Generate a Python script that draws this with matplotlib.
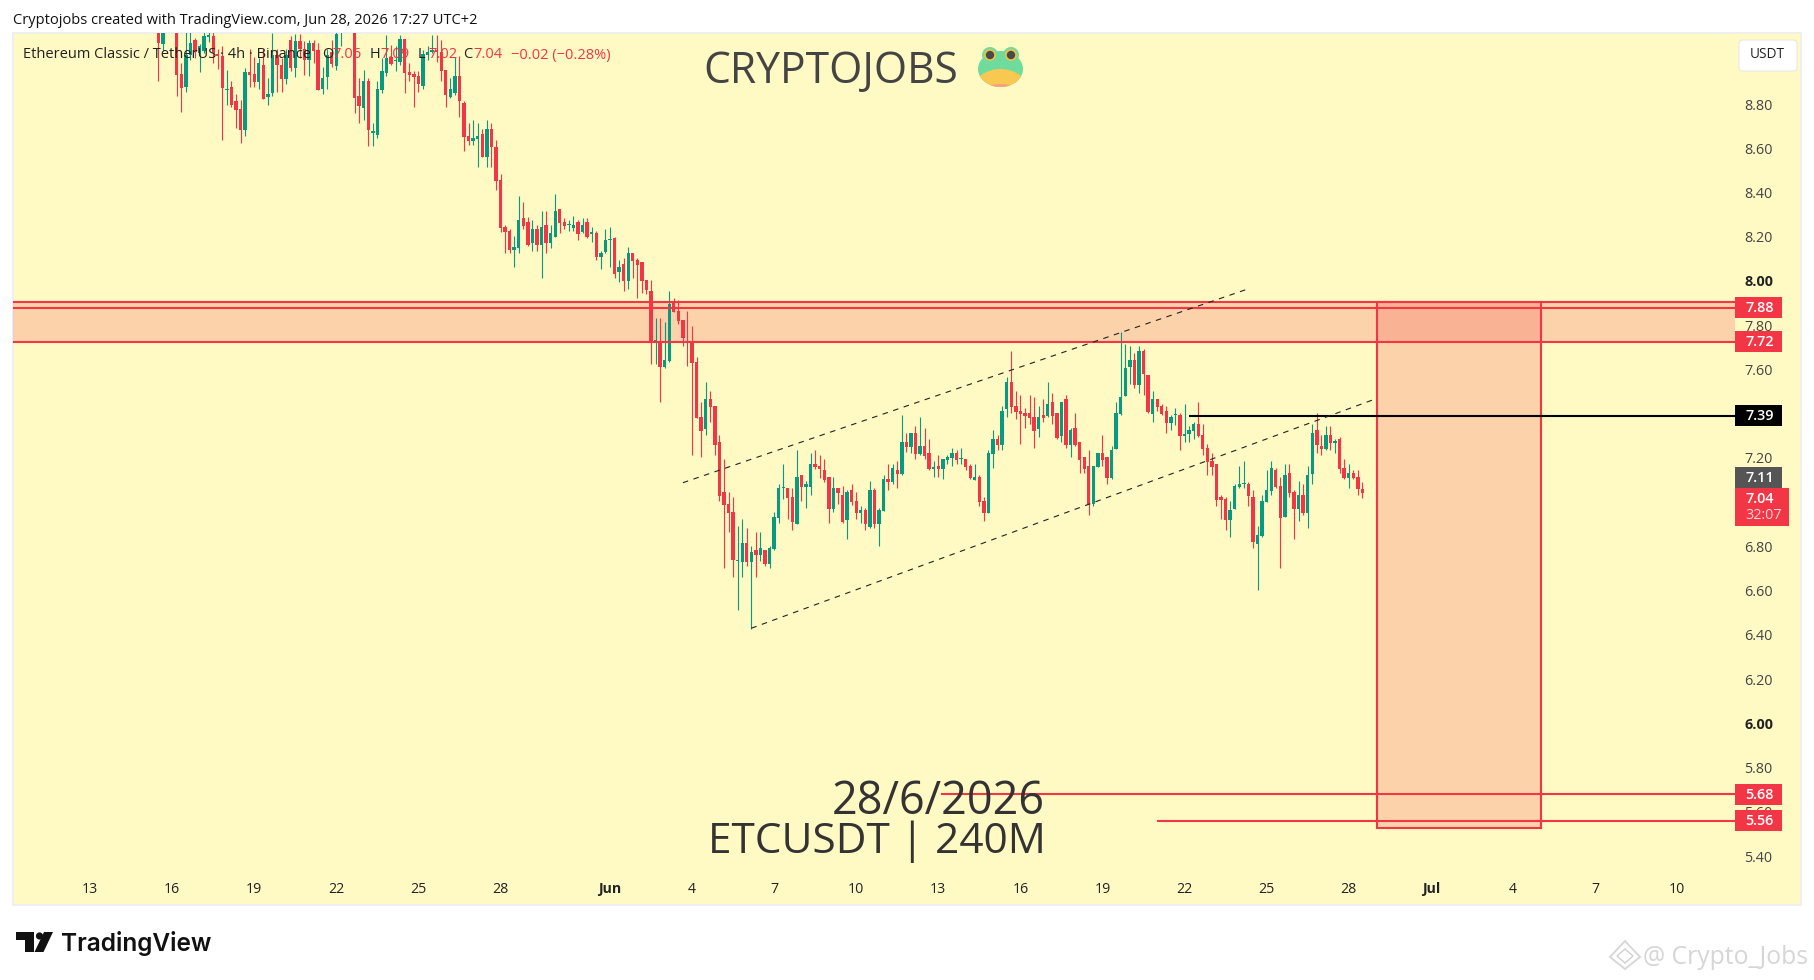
import numpy as np
import matplotlib
matplotlib.use("Agg")
import matplotlib.pyplot as plt
from matplotlib.patches import Rectangle, Ellipse, Polygon, Circle, FancyBboxPatch
from matplotlib.transforms import IdentityTransform

W, H = 1814, 980

# 4h candles, first one is bar -99, bar 0 sits on the Jun tick
opens = [
    9.20,9.07,9.20,9.22,9.20,8.936,8.875,9.02,9.09,9.03,
    9.04,9.105,9.107,9.026,9.017,8.864,8.876,8.812,8.777,8.683,
    8.945,8.936,8.90,8.977,8.833,8.85,9.02,8.977,8.913,9.09,
    8.963,9.087,9.05,9.0,9.076,9.045,8.87,8.92,9.035,8.972,
    9.15,9.2,9.22,9.2,8.837,8.784,8.904,8.67,8.66,8.864,
    8.939,9.014,8.994,8.992,9.093,8.944,8.936,8.927,8.882,9.022,
    9.033,9.045,9.037,8.954,8.831,8.852,8.927,8.803,8.656,8.635,
    8.642,8.665,8.562,8.687,8.605,8.457,8.243,8.226,8.14,8.149,
    8.283,8.267,8.173,8.233,8.163,8.253,8.172,8.2,8.325,8.267,
    8.251,8.24,8.267,8.222,8.267,8.214,8.217,8.108,8.131,8.183,
    8.194,8.041,8.077,8.0,8.126,8.095,8.086,8.004,7.955,7.721,
    7.729,7.611,7.638,7.905,7.864,7.824,7.729,7.729,7.634,7.385,
    7.332,7.466,7.435,7.272,7.046,6.992,6.956,6.732,6.73,6.815,
    6.73,6.784,6.761,6.784,6.72,6.788,6.929,7.063,7.064,7.023,
    6.901,7.123,7.069,7.069,7.173,7.164,7.145,7.114,6.969,7.064,
    7.032,6.919,7.055,7.005,6.951,6.965,6.888,7.055,6.901,6.96,
    7.105,7.091,7.145,7.127,7.272,7.249,7.313,7.218,7.254,7.222,
    7.152,7.164,7.15,7.19,7.2,7.222,7.193,7.195,7.164,7.1,
    7.114,7.005,6.951,7.218,7.286,7.259,7.421,7.543,7.435,7.412,
    7.403,7.403,7.385,7.331,7.394,7.39,7.453,7.403,7.299,7.466,
    7.259,7.335,7.272,7.204,7.164,6.992,7.159,7.222,7.204,7.109,
    7.24,7.399,7.48,7.611,7.643,7.53,7.683,7.575,7.399,7.466,
    7.435,7.412,7.358,7.392,7.394,7.301,7.308,7.322,7.353,7.304,
    7.245,7.186,7.173,7.023,7.014,6.919,6.969,7.069,7.08,7.082,
    7.023,6.811,6.847,7.0,7.05,7.145,7.073,6.933,7.132,7.046,
    6.969,7.032,6.951,7.127,7.326,7.254,7.24,7.304,7.269,7.286,
    7.154,7.109,7.132,7.114,7.06,
]
highs = [
    9.25,9.25,9.30,9.30,9.25,8.987,9.15,9.13,9.10,9.07,
    9.13,9.125,9.13,9.05,9.06,8.954,8.904,8.845,8.82,8.963,
    9.05,9.014,9.008,9.05,8.918,9.12,9.05,9.008,9.05,9.107,
    9.117,9.117,9.087,9.09,9.09,9.076,8.967,9.05,9.09,9.2,
    9.25,9.3,9.3,9.25,8.916,8.954,8.916,8.713,8.904,9.007,
    9.112,9.067,9.06,9.112,9.093,8.984,8.947,8.947,9.045,9.06,
    9.112,9.112,9.09,8.954,8.916,9.014,9.017,8.814,8.713,8.728,
    8.713,8.687,8.728,8.713,8.638,8.484,8.253,8.235,8.203,8.384,
    8.357,8.288,8.276,8.252,8.315,8.315,8.252,8.393,8.325,8.285,
    8.276,8.294,8.276,8.285,8.285,8.244,8.226,8.135,8.233,8.244,
    8.2,8.095,8.104,8.154,8.126,8.104,8.086,8.004,8.004,7.833,
    7.833,7.815,7.955,7.923,7.914,7.824,7.864,7.797,7.655,7.453,
    7.543,7.503,7.435,7.304,7.195,7.046,7.023,6.892,6.924,6.883,
    6.802,6.865,6.865,6.784,6.802,6.956,7.082,7.173,7.064,7.064,
    7.236,7.123,7.096,7.222,7.236,7.213,7.195,7.114,7.114,7.064,
    7.073,7.055,7.082,7.046,6.983,6.974,7.096,7.064,6.974,7.123,
    7.173,7.173,7.186,7.394,7.313,7.313,7.344,7.385,7.335,7.286,
    7.186,7.213,7.195,7.213,7.245,7.236,7.245,7.195,7.173,7.173,
    7.123,7.023,7.236,7.326,7.304,7.435,7.566,7.683,7.503,7.485,
    7.426,7.485,7.476,7.435,7.467,7.543,7.494,7.403,7.453,7.485,
    7.335,7.403,7.272,7.204,7.236,7.164,7.222,7.304,7.204,7.254,
    7.453,7.771,7.715,7.706,7.674,7.706,7.692,7.575,7.503,7.466,
    7.444,7.435,7.394,7.426,7.403,7.444,7.344,7.362,7.453,7.353,
    7.263,7.222,7.173,7.032,7.023,7.005,7.082,7.163,7.186,7.091,
    7.055,6.892,7.032,7.145,7.186,7.154,7.114,7.173,7.173,7.055,
    7.096,7.082,7.163,7.353,7.403,7.304,7.344,7.344,7.286,7.295,
    7.195,7.173,7.145,7.145,7.09,
]
lows = [
    8.906,9.04,9.15,9.15,8.837,8.766,8.856,9.0,9.01,8.946,
    9.03,9.08,8.987,8.958,8.637,8.796,8.786,8.692,8.625,8.655,
    8.875,8.875,8.87,8.823,8.796,8.836,8.855,8.855,8.89,8.95,
    8.92,9.01,8.93,8.925,8.985,8.864,8.845,8.87,8.967,8.954,
    9.06,9.15,9.15,8.758,8.716,8.728,8.608,8.608,8.645,8.852,
    8.927,8.977,8.947,8.977,8.849,8.904,8.788,8.856,8.868,9.0,
    9.03,8.992,8.904,8.788,8.826,8.841,8.739,8.589,8.615,8.615,
    8.517,8.562,8.517,8.517,8.409,8.22,8.128,8.128,8.065,8.128,
    8.236,8.158,8.136,8.137,8.015,8.128,8.148,8.2,8.218,8.235,
    8.226,8.226,8.185,8.217,8.194,8.176,8.095,8.054,8.126,8.063,
    8.014,7.995,7.955,7.964,8.014,7.923,7.946,7.941,7.625,7.625,
    7.453,7.607,7.634,7.86,7.806,7.706,7.616,7.213,7.382,7.206,
    7.304,7.362,7.213,7.007,6.702,6.865,6.663,6.513,6.663,6.712,
    6.425,6.662,6.734,6.712,6.702,6.784,6.906,7.014,6.924,6.874,
    6.901,7.005,6.974,7.032,7.15,7.109,7.091,6.906,6.956,6.992,
    6.906,6.834,6.987,6.924,6.906,6.874,6.883,6.883,6.802,6.96,
    7.055,7.082,7.064,7.123,7.227,7.222,7.195,7.213,7.195,7.145,
    7.114,7.114,7.105,7.173,7.164,7.173,7.173,7.145,7.105,7.1,
    6.983,6.915,6.951,7.155,7.236,7.236,7.385,7.403,7.376,7.263,
    7.335,7.353,7.245,7.295,7.362,7.385,7.353,7.286,7.272,7.245,
    7.204,7.254,7.132,7.132,6.942,6.983,7.159,7.164,7.082,7.105,
    7.24,7.394,7.48,7.534,7.516,7.494,7.484,7.403,7.362,7.412,
    7.394,7.313,7.326,7.349,7.236,7.272,7.272,7.286,7.295,7.213,
    7.123,7.123,6.983,6.924,6.874,6.843,6.969,7.064,7.064,6.983,
    6.793,6.603,6.843,7.0,7.032,7.064,6.702,6.933,7.023,6.833,
    6.915,6.942,6.883,7.082,7.222,7.213,7.236,7.236,7.222,7.132,
    7.105,7.064,7.105,7.032,7.02,
]
closes = [
    9.075,9.20,9.22,9.24,8.931,8.873,9.02,9.076,9.035,9.06,
    9.107,9.11,9.03,9.017,8.874,8.868,8.797,8.773,8.683,8.945,
    8.933,8.90,8.985,8.823,8.843,9.02,8.977,8.913,9.02,8.963,
    9.087,9.05,9.0,9.076,9.04,8.864,8.918,9.02,8.98,9.117,
    9.2,9.22,9.24,8.825,8.79,8.904,8.683,8.673,8.867,8.947,
    9.007,8.981,8.996,9.093,8.942,8.932,8.924,8.891,9.026,9.034,
    9.045,9.033,8.951,8.841,8.867,8.927,8.814,8.653,8.635,8.647,
    8.656,8.562,8.687,8.604,8.454,8.241,8.223,8.14,8.152,8.276,
    8.249,8.163,8.233,8.163,8.244,8.172,8.217,8.316,8.264,8.249,
    8.253,8.252,8.212,8.252,8.199,8.216,8.108,8.126,8.185,8.185,
    8.032,8.063,8.0,8.126,8.09,8.072,8.0,7.959,7.729,7.733,
    7.613,7.643,7.896,7.86,7.819,7.742,7.72,7.631,7.382,7.323,
    7.466,7.43,7.26,7.028,6.989,6.953,6.739,6.734,6.815,6.73,
    6.775,6.761,6.793,6.72,6.793,6.933,7.064,7.065,7.019,6.91,
    7.114,7.069,7.082,7.173,7.159,7.15,7.1,6.969,7.064,7.042,
    6.91,7.046,7.001,6.951,6.965,6.901,7.055,6.901,6.965,7.105,
    7.091,7.155,7.127,7.272,7.249,7.313,7.218,7.254,7.209,7.15,
    7.154,7.15,7.195,7.204,7.222,7.19,7.195,7.159,7.109,7.114,
    7.001,6.951,7.222,7.286,7.259,7.412,7.543,7.43,7.408,7.399,
    7.39,7.381,7.322,7.385,7.381,7.444,7.39,7.29,7.453,7.259,
    7.326,7.259,7.19,7.15,6.987,7.164,7.222,7.19,7.109,7.236,
    7.403,7.475,7.607,7.643,7.53,7.683,7.579,7.408,7.466,7.43,
    7.399,7.358,7.385,7.394,7.299,7.303,7.326,7.353,7.299,7.24,
    7.182,7.159,7.01,7.01,6.919,6.965,7.073,7.082,7.082,7.028,
    6.82,6.852,7.005,7.055,7.154,7.069,6.928,7.123,7.041,6.969,
    7.032,6.951,7.123,7.313,7.258,7.24,7.304,7.268,7.271,7.15,
    7.109,7.132,7.109,7.06,7.04,
]
first_bar = -99

price_ticks = [5.4, 5.6, 5.8, 6.0, 6.2, 6.4, 6.6, 6.8, 7.0, 7.2, 7.4, 7.6, 7.8, 8.0, 8.2, 8.4, 8.6, 8.8]
date_days = [-19, -16, -13, -10, -7, -4, 0, 3, 6, 9, 12, 15, 18, 21, 24, 27, 30, 33, 36, 39]
date_labels = ["13", "16", "19", "22", "25", "28", "Jun", "4", "7", "10", "13", "16", "19", "22", "25", "28", "Jul", "4", "7", "10"]

zone_levels = [7.905, 7.88, 7.725]
target_levels = [5.68, 5.56]
black_level = 7.39
box_left, box_right = 168.2, 204.1
box_top, box_bottom = 7.905, 5.527
channel_up = ([16.0, 140.2], [7.088, 7.966])
channel_low = ([31.0, 167.9], [6.43, 7.467])

RED = "#F23645"
GREEN = "#089981"
BG = "#FFF9C4"
FONT = "Open Sans"

plt.rcParams["font.family"] = [FONT, "DejaVu Sans"]

fig = plt.figure(figsize=(W / 100, H / 100), dpi=100, facecolor="white")
ax = fig.add_axes([13 / W, 1 - 872 / H, (1735 - 13) / W, (872 - 33) / H])
ax.patch.set_alpha(0)
x_min, x_max = -130.9, 246.7
ax.set_xlim(x_min, x_max)
ax.set_ylim(5.328, 9.121)
for s in ax.spines.values():
    s.set_visible(False)


def px_rect(x0, y0, x1, y1, **kw):
    r = Rectangle((x0, H - y1), x1 - x0, y1 - y0, transform=IdentityTransform(), **kw)
    fig.add_artist(r)
    return r


def px_text(x, y, s, **kw):
    kw.setdefault("va", "center")
    kw.setdefault("ha", "left")
    return fig.text(x / W, 1 - y / H, s, **kw)


def price_y(p):
    return H - ax.transData.transform((0, p))[1]


# chart background with its thin grey frame
px_rect(12.5, 33, 1801, 905, facecolor=BG, edgecolor="#EFEFEF", linewidth=1.4, zorder=-5)

# zone and short box
ax.axhspan(zone_levels[2], zone_levels[0], facecolor=RED, alpha=0.2, linewidth=0, zorder=1)
ax.add_patch(Rectangle((box_left, box_bottom), box_right - box_left, box_top - box_bottom,
                       facecolor=RED + "33", edgecolor=RED, linewidth=1.5, zorder=1.2))

# candles
bars = np.arange(len(opens)) + first_bar
o = np.array(opens)
h = np.array(highs)
l = np.array(lows)
c = np.array(closes)
cols = np.where(c >= o, GREEN, RED)
ax.vlines(bars, l, h, colors=cols, linewidth=0.8, zorder=2)
ax.bar(bars, np.maximum(np.abs(c - o), 0.006), bottom=np.minimum(o, c), width=0.74,
       color=cols, linewidth=0, zorder=2.1)

# horizontal levels
ax.hlines(zone_levels, x_min, x_max, colors=RED, linewidth=1.5, zorder=3)
ax.hlines(target_levels[0], 72.5, x_max, colors=RED, linewidth=1.5, zorder=3)
ax.hlines(target_levels[1], 120.0, x_max, colors=RED, linewidth=1.5, zorder=3)
ax.hlines(black_level, 126.9, x_max, colors="black", linewidth=1.5, zorder=3)

# channel
for xs, ys in (channel_up, channel_low):
    ax.plot(xs, ys, color="#222222", linewidth=0.8, linestyle=(0, (5, 5)), zorder=3.5)

# axes ticks
ax.yaxis.tick_right()
ax.set_yticks(price_ticks)
ax.set_yticklabels(["%.2f" % p for p in price_ticks], fontsize=10.4, color="#444444")
for t, p in zip(ax.get_yticklabels(), price_ticks):
    if p in (6.0, 8.0):
        t.set_fontweight("bold")
        t.set_color("#222222")
ax.set_xticks([d * 6 for d in date_days])
ax.set_xticklabels(date_labels, fontsize=10.2, color="#222222")
for t, d in zip(ax.get_xticklabels(), date_labels):
    if d in ("Jun", "Jul"):
        t.set_fontweight("bold")
ax.tick_params(axis="both", length=0)
ax.tick_params(axis="y", pad=6.6)
ax.tick_params(axis="x", pad=7.3)

# price labels on the scale
for val, txt, col in [(7.878, "7.88", RED), (7.727, "7.72", RED), (7.39, "7.39", "black"),
                      (7.112, "7.11", "#555555"), (5.68, "5.68", RED), (5.56, "5.56", RED)]:
    y = price_y(val)
    px_rect(1735, y - 10.5, 1782, y + 10.5, facecolor=col, linewidth=0, zorder=5)
    px_text(1745, y + 0.5, txt, color="white", fontsize=10.4, fontweight="semibold", zorder=6)
# last price box sits pushed below the 7.11 label
px_rect(1735, 488, 1789, 526, facecolor=RED, linewidth=0, zorder=5)
px_text(1745, 498.5, "7.04", color="white", fontsize=10.4, fontweight="semibold", zorder=6)
px_text(1745, 515.5, "32:07", color="#FFD5D8", fontsize=10.4, zorder=6)

# USDT button
btn = FancyBboxPatch((1739, H - 71), 58, 31, boxstyle="round,pad=0,rounding_size=4",
                     transform=IdentityTransform(), facecolor="white", edgecolor="#E8E8E8",
                     linewidth=0.8, zorder=5)
fig.add_artist(btn)
px_text(1767.5, 55, "USDT", color="#222222", fontsize=9.8, ha="center", zorder=6)

# header and legend
px_text(13, 21, "Cryptojobs created with TradingView.com, Jun 28, 2026 17:27 UTC+2",
        color="#111111", fontsize=10.55, zorder=6)
px_text(23, 55, "Ethereum Classic / TetherUS · 4h · Binance", color="#222222", fontsize=10.5, zorder=6)
for x, s, col in [(322, "O", "#222222"), (332, "7.06", RED), (370, "H", "#222222"), (380, "7.09", RED),
                  (418, "L", "#222222"), (428, "7.02", RED), (463, "C", "#222222"), (473, "7.04", RED),
                  (511, "\u22120.02 (\u22120.28%)", RED)]:
    px_text(x, 55, s, color=col, fontsize=10.5, zorder=6)

# big watermark texts
px_text(703, 72, "CRYPTOJOBS", color="#444444", fontsize=30.7, zorder=6)
px_text(1045, 802, "28/6/2026", color="#333333", fontsize=32.4, ha="right", zorder=6)
px_text(1046, 842, "ETCUSDT | 240M", color="#333333", fontsize=30.5, ha="right", zorder=6)

# frog
head = Ellipse((1000.5, H - 69), 45, 36, transform=IdentityTransform(), facecolor="#6FDC9E", linewidth=0, zorder=6)
fig.add_artist(head)
for ex in (990, 1011):
    fig.add_artist(Circle((ex, H - 55), 8, transform=IdentityTransform(), facecolor="#6FDC9E", linewidth=0, zorder=6))
    fig.add_artist(Circle((ex, H - 55), 5.8, transform=IdentityTransform(), facecolor="#F5C242", linewidth=0, zorder=7))
    fig.add_artist(Circle((ex, H - 55), 4.2, transform=IdentityTransform(), facecolor="#4A4A4A", linewidth=0, zorder=8))
belly = Ellipse((1000.5, H - 86), 50, 34, transform=IdentityTransform(), facecolor="#F9C850", linewidth=0, zorder=7)
fig.add_artist(belly)
belly.set_clip_path(head)
belly2 = Ellipse((1000.5, H - 96), 50, 24, transform=IdentityTransform(), facecolor="#F7A07C", linewidth=0, zorder=7.5)
fig.add_artist(belly2)
belly2.set_clip_path(head)

# TradingView logo
for pts in ([(15.5, 932), (34, 932), (34, 952), (25, 952), (25, 940), (15.5, 940)],
            [(44, 932), (53, 932), (43.5, 952), (34.5, 952)]):
    fig.add_artist(Polygon([(x, H - y) for x, y in pts], closed=True, transform=IdentityTransform(),
                           facecolor="#111111", linewidth=0))
fig.add_artist(Circle((39.5, H - 936), 3.6, transform=IdentityTransform(), facecolor="#111111", linewidth=0))
px_text(61, 943, "TradingView", color="#111111", fontsize=17.6, family="Inter", fontweight="semibold")

# site stamp at the bottom right
px_text(1643, 957, "@ Crypto_Jobs", color="#D6D6D6", fontsize=17.8)
fig.add_artist(Polygon([(1610, H - 957), (1625, H - 941), (1640, H - 957), (1625, H - 969)], closed=True,
                       transform=IdentityTransform(), facecolor="white", edgecolor="#D8D8D8", linewidth=1.4))
fig.add_artist(Polygon([(1617, H - 956), (1625, H - 949), (1633, H - 956), (1625, H - 963)], closed=True,
                       transform=IdentityTransform(), facecolor="white", edgecolor="#D0D0D0", linewidth=1.0))

fig.savefig("out.png", dpi=100, facecolor="white")
